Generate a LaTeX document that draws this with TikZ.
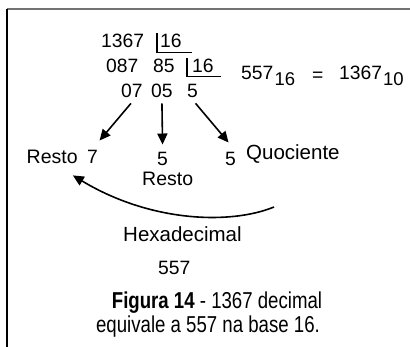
\documentclass[tikz,border=0pt]{standalone}
\usepackage{fontspec}
\setmainfont{Liberation Sans}
\newfontfamily\capfont[FakeStretch=0.81]{Liberation Sans}
\usetikzlibrary{arrows.meta}
\tikzset{
  txt/.style={inner sep=0pt, anchor=base west, font=\fontsize{19.3}{22}\selectfont},
  subtxt/.style={inner sep=0pt, anchor=base west, font=\fontsize{18.5}{22}\selectfont},
  wtxt/.style={inner sep=0pt, anchor=base west, font=\fontsize{20.5}{24}\selectfont},
  rtxt/.style={inner sep=0pt, anchor=base west, font=\fontsize{19.5}{22}\selectfont},
  captxt/.style={inner sep=0pt, anchor=base, font=\capfont\fontsize{23}{26}\selectfont},
  arr/.style={line width=1.6pt, -{Triangle[length=11pt,width=10pt]}},
  brk/.style={line width=1.6pt},
}
\begin{document}
\begin{tikzpicture}[x=1pt,y=-1pt]
\useasboundingbox (0,0) rectangle (410,347);
% frame
\draw[gray!90!black, line width=2pt] (7,9.5) -- (410,9.5);
\draw[black, line width=1.2pt] (7,9) -- (7,347);
% division
\node[txt] (a1367) at (101,47.5) {1367};
\node[txt] (d1) at (160,47.5) {16};
\node[txt] (a087) at (106,73) {087};
\node[txt] (a85) at (153,73) {85};
\node[txt] (d2) at (192,73) {16};
\node[txt] (n07) at (121,98) {07};
\node[txt] (n05) at (151,98) {05};
\node[txt] (n5r) at (187,98) {5};
\draw[brk] ([xshift=-3pt,yshift=1pt]d1.north west) |- ([xshift=10pt,yshift=-4.5pt]d1.south east);
\draw[brk] ([xshift=-5pt,yshift=1pt]d2.north west) |- ([xshift=7pt,yshift=-3pt]d2.south east);
% equation
\node[txt] (e557) at (241,80) {557};
\node[subtxt] (e16) at (274.5,86) {16};
\node[txt] (eeq) at (312,81.5) {=};
\node[txt] (e1367) at (339,80) {1367};
\node[subtxt] (e10) at (383,86) {10};
% results
\node[rtxt] (resto1) at (26.5,164) {Resto};
\node[txt] (n7) at (87,164) {7};
\node[txt] (n5a) at (157,166) {5};
\node[rtxt] (resto2) at (142,186) {Resto};
\node[txt] (n5c) at (225,166) {5};
\node[wtxt] (quoc) at (246,160) {Quociente};
\draw[arr] ([xshift=-1pt,yshift=-5pt]n07.south) -- ([xshift=7pt,yshift=10pt]n7.north);
\draw[arr] ([yshift=-5pt]n05.south) -- ([yshift=8pt]n5a.north);
\draw[arr] ([xshift=3pt,yshift=-5pt]n5r.south) -- ([xshift=-2pt,yshift=10pt]n5c.north);
% curved arrow
\coordinate (cstart) at (274,207);
\draw[arr] (cstart) .. controls (230,225) and (150,222) .. ([xshift=-5pt,yshift=-11pt]resto1.south east);
\node[wtxt] (hex) at (123,242) {Hexadecimal};
\node[txt] (r557) at (158,275) {557};
% caption
\node[captxt] (cap1) at (217,309) {\textbf{Figura 14} - 1367 decimal};
\node[captxt] (cap2) at (208,333) {equivale a 557 na base 16.};
\end{tikzpicture}
\end{document}
